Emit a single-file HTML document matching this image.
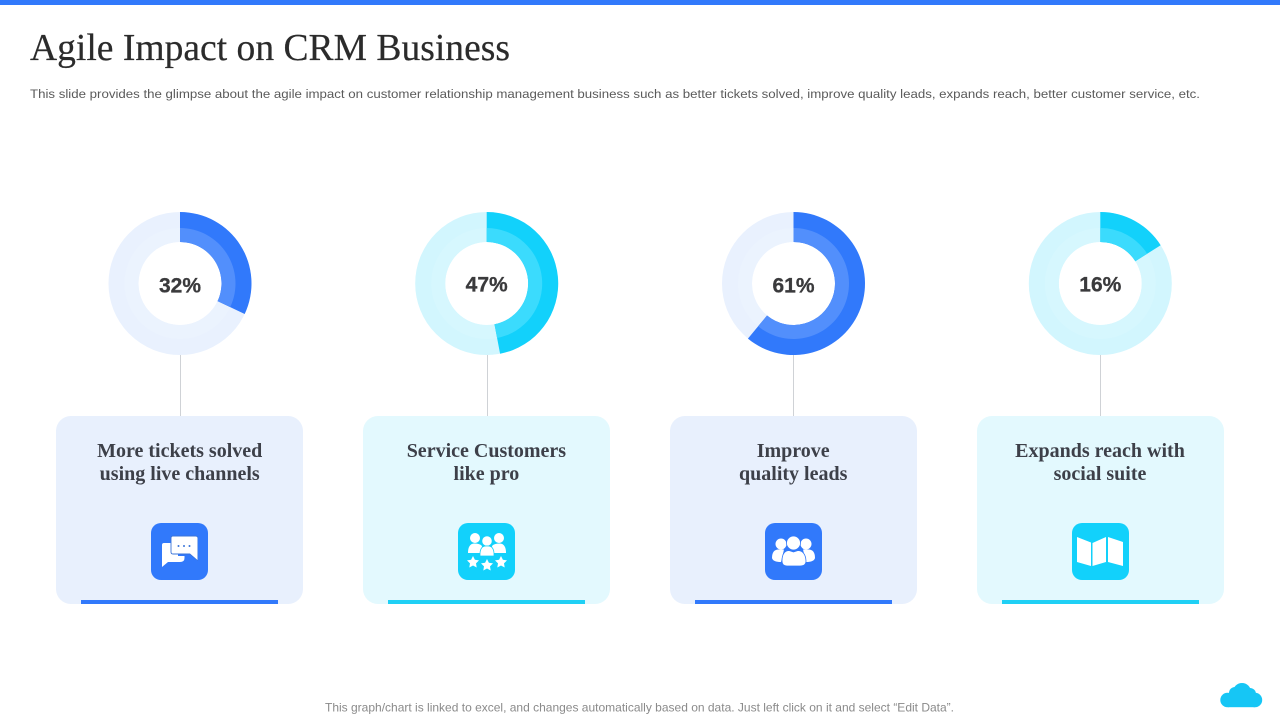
<!DOCTYPE html>
<html lang="en">
<head>
<meta charset="utf-8">
<title>Agile Impact on CRM Business</title>
<style>
html,body{margin:0;padding:0;background:#fff;width:1280px;height:720px;overflow:hidden}
svg{display:block}
.sans{font-family:"Liberation Sans",Arial,sans-serif}
.serif{font-family:"Liberation Serif","Times New Roman",serif}
</style>
</head>
<body>
<svg id="slide" width="1280" height="720" viewBox="0 0 1280 720" xmlns="http://www.w3.org/2000/svg">
  <rect x="0" y="0" width="1280" height="5" fill="#3179fb"/>
  <text class="serif" x="30" y="60" font-size="38.5" fill="#2b2b2b" stroke="#2b2b2b" stroke-width="0.2" textLength="480" lengthAdjust="spacingAndGlyphs">Agile Impact on CRM Business</text>
  <text class="sans" x="30" y="98" font-size="12.4" fill="#5a5a5a" textLength="1170" lengthAdjust="spacingAndGlyphs">This slide provides the glimpse about the agile impact on customer relationship management business such as better tickets solved, improve quality leads, expands reach, better customer service, etc.</text>

  <g id="charts"></g>
  <g id="cards"></g>

  <g id="icon-chat">
    <rect x="151" y="523" width="57" height="57" rx="10" fill="#3179fb"/>
    <path d="M162 545Q162 543 164 543H178V556H184.500V558Q184.500 562 180 562H168L162 567Z" fill="#fff"/>
    <path d="M171 538Q171 536 173 536H195Q197.500 536 197.500 538V560L190 554H173Q171 554 171 552Z" fill="#fff" stroke="#3a74d8" stroke-width="0.9"/>
    <path d="M172 537.500Q172 536.500 174 536.500H195Q197.500 536.500 197.500 538V560L190 553.500H174Q172 553.500 172 552Z" fill="#fff"/>
    <circle cx="178.500" cy="546" r="1" fill="#3a74d8"/><circle cx="184" cy="546" r="1" fill="#3a74d8"/><circle cx="189.500" cy="546" r="1" fill="#3a74d8"/>
  </g>
  <g id="icon-team" fill="#fff">
    <rect x="458" y="523" width="57" height="57" rx="10" fill="#12d1fb"/>
    <circle cx="475" cy="538" r="5"/><circle cx="499" cy="538" r="5"/>
    <path d="M468 553Q468 544 474 543.500Q480 543.500 482 546L481 553Z"/>
    <path d="M506 553Q506 544 500 543.500Q494 543.500 492 546L493 553Z"/>
    <circle cx="487" cy="541" r="5.200" stroke="#12d1fb" stroke-width="0.8"/>
    <path d="M480 556Q479.500 546 486 546H488Q494.500 546 494 556Z" stroke="#12d1fb" stroke-width="0.8"/>
    <polygon points="473,556 474.900,559.800 479,560.400 476,563.400 476.700,567.500 473,565.500 469.300,567.500 470,563.400 467,560.400 471.100,559.800"/>
    <polygon points="487,559 488.900,562.800 493,563.400 490,566.400 490.700,570.500 487,568.500 483.300,570.500 484,566.400 481,563.400 485.100,562.800"/>
    <polygon points="501,556 502.900,559.800 507,560.400 504,563.400 504.700,567.500 501,565.500 497.300,567.500 498,563.400 495,560.400 499.100,559.800"/>
  </g>
  <g id="icon-people" fill="#fff">
    <rect x="765" y="523" width="57" height="57" rx="10" fill="#3179fb"/>
    <circle cx="781" cy="544" r="5.500"/><circle cx="806" cy="544" r="5.500"/>
    <path d="M772 558Q772 550 778 549.500H784L781 562Q773 562 772 558Z"/>
    <path d="M815 558Q815 550 809 549.500H803L806 562Q814 562 815 558Z"/>
    <circle cx="793.500" cy="543" r="7" stroke="#3179fb" stroke-width="0.8"/>
    <path d="M782 561Q782 551 789 550.500L793.500 552L798 550.500Q805.500 551 806 561Q806 566 800 566H787Q782 566 782 561Z" stroke="#3179fb" stroke-width="0.8"/>
  </g>
  <g id="icon-map" fill="#fff">
    <rect x="1072" y="523" width="57" height="57" rx="10" fill="#12d1fb"/>
    <polygon points="1077,537 1091,542.500 1091,566 1077,562"/>
    <polygon points="1092.500,543 1106,537 1106,562 1092.500,566"/>
    <polygon points="1108,537 1123,542 1123,566 1108,562"/>
  </g>

  <text class="sans" x="325" y="711.500" font-size="12" fill="#8a8a8a" textLength="629" lengthAdjust="spacingAndGlyphs">This graph/chart is linked to excel, and changes automatically based on data. Just left click on it and select “Edit Data”.</text>
  <g fill="#16c6f5">
    <circle cx="1227.500" cy="700" r="7.200"/>
    <circle cx="1235" cy="693" r="6"/>
    <circle cx="1242" cy="692" r="9"/>
    <circle cx="1250" cy="694" r="6"/>
    <circle cx="1255" cy="700" r="7.200"/>
    <rect x="1228" y="696" width="27" height="11.200"/>
  </g>
</svg>

<script>
const categories = ["More tickets solved using live channels", "Service Customers like pro", "Improve quality leads", "Expands reach with social suite"];
const percentValues = [32, 47, 61, 16];
const titleFirstLines = ["More tickets solved", "Service Customers", "Improve", "Expands reach with"];
const titleSecondLines = ["using live channels", "like pro", "quality leads", "social suite"];

const NS = "http://www.w3.org/2000/svg";
const ringCenterX = [180, 486.7, 793.5, 1100.3];
const cardLeftX = [56, 363, 670, 977];
const centerY = 283.5;
const R_OUT = 71.5, R_MID = 55.5, R_IN = 41.5;
const themes = [
  {dark:"#3179fb", mid:"#528ffc", track:"#e9f1fe", trackIn:"#ebf3fe", card:"#e8f0fd"},
  {dark:"#12d1fb", mid:"#3bdbfd", track:"#d2f6fe", trackIn:"#d6f7fe", card:"#e3f9fe"}
];

function pct2rad(p){ return p / 100 * 2 * Math.PI; }
function point(cx, cy, r, p){
  const a = pct2rad(p);
  return [cx + r * Math.sin(a), cy - r * Math.cos(a)];
}
function ringPath(cx, cy, r0, r1, p){
  const clamped = Math.min(Math.max(p, 0), 99.999);
  const large = clamped > 50 ? 1 : 0;
  const a = point(cx, cy, r1, 0), b = point(cx, cy, r1, clamped);
  const c = point(cx, cy, r0, clamped), d = point(cx, cy, r0, 0);
  return "M" + a[0] + " " + a[1] + "A" + r1 + " " + r1 + " 0 " + large + " 1 " + b[0] + " " + b[1] +
         "L" + c[0] + " " + c[1] + "A" + r0 + " " + r0 + " 0 " + large + " 0 " + d[0] + " " + d[1] + "Z";
}
function make(parent, tag, attrs){
  const el = document.createElementNS(NS, tag);
  for (const k in attrs) el.setAttribute(k, attrs[k]);
  parent.appendChild(el);
  return el;
}

const chartsLayer = document.getElementById("charts");
const cardsLayer = document.getElementById("cards");

percentValues.forEach(function(v, i){
  const cx = ringCenterX[i];
  const left = cardLeftX[i];
  const textX = cx - 0.3;
  const lineX = Math.floor(cx + 0.3) + 0.5;
  const t = themes[i % 2];

  const line = make(chartsLayer, "line", {x1:lineX, x2:lineX, y1:355, y2:417, stroke:"#cfd2d6", "stroke-width":1});
  
  

  const track = make(chartsLayer, "circle", {cx:cx, cy:centerY, r:(R_OUT + R_IN) / 2, fill:"none", stroke:t.track, "stroke-width":R_OUT - R_IN});
  
  

  const trackInner = make(chartsLayer, "circle", {cx:cx, cy:centerY, r:(R_MID + R_IN) / 2, fill:"none", stroke:t.trackIn, "stroke-width":R_MID - R_IN});
  
  

  const outer = make(chartsLayer, "path", {d:ringPath(cx, centerY, R_IN, R_OUT, v), fill:t.dark});
  
  

  const inner = make(chartsLayer, "path", {d:ringPath(cx, centerY, R_IN, R_MID, v), fill:t.mid});
  
  

  const label = make(chartsLayer, "text", {x:cx, y:i % 2 ? 291.5 : 292.5, "text-anchor":"middle", "font-size":21, "font-weight":"bold", fill:"#3a3a3c", stroke:"#3a3a3c", "stroke-width":0.3, "class":"sans"});
  label.textContent = v + "%";
  
  

  const card = make(cardsLayer, "rect", {x:left, y:416, width:247, height:188, rx:15, fill:t.card});
  
  

  const underline = make(cardsLayer, "rect", {x:left + 25, y:600, width:197, height:4, fill:i % 2 ? "#1fd0f5" : "#3179fb"});
  
  

  const t1 = make(cardsLayer, "text", {x:textX, y:457, "text-anchor":"middle", "font-size":20, "font-weight":"bold", fill:"#3d4049", "class":"serif"});
  t1.textContent = titleFirstLines[i];
  
  

  const t2 = make(cardsLayer, "text", {x:textX, y:480, "text-anchor":"middle", "font-size":20, "font-weight":"bold", fill:"#3d4049", "class":"serif"});
  t2.textContent = titleSecondLines[i];
  
  
});
</script>
</body>
</html>
